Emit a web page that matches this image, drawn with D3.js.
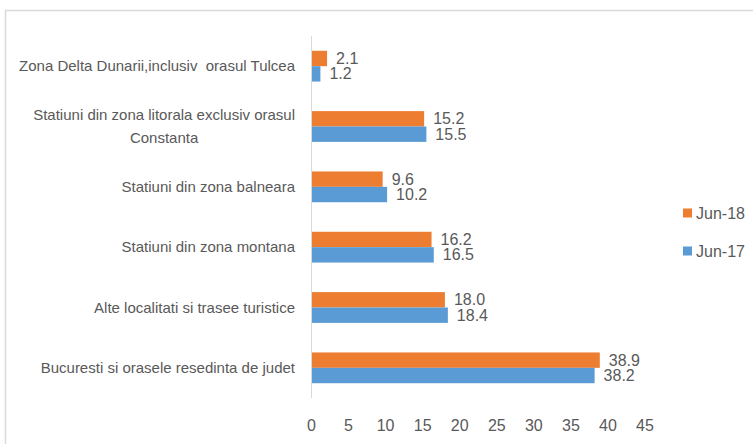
<!DOCTYPE html>
<html>
<head>
<meta charset="utf-8">
<script src="https://cdn.jsdelivr.net/npm/d3@7"></script>
<style>
  body { margin: 0; background: #fff; }
  text { font-family: "Liberation Sans", Arial, sans-serif; fill: #595959; white-space: pre; }
</style>
</head>
<body>
<div id="chart"></div>
<script>
// Categories, top to bottom as shown
const categories = [
    "Zona Delta Dunarii,inclusiv  orasul Tulcea",
    "Statiuni din zona litorala exclusiv orasul|Constanta",
    "Statiuni din zona balneara",
    "Statiuni din zona montana",
    "Alte localitati si trasee turistice",
    "Bucuresti si orasele resedinta de judet"
];
const jun18 = [2.1, 15.2, 9.6, 16.2, 18.0, 38.9];
const jun17 = [1.2, 15.5, 10.2, 16.5, 18.4, 38.2];
const seriesNames = ["Jun-18", "Jun-17"];
const xTicks = [0, 5, 10, 15, 20, 25, 30, 35, 40, 45];

const colors = { "Jun-18": "#ED7D31", "Jun-17": "#5B9BD5" };

const width = 753, height = 444;
const svg = d3.select("#chart").append("svg")
    .attr("width", width)
    .attr("height", height);

// Outer chart border
svg.append("rect")
    .attr("x", 5.5).attr("y", 10.5)
    .attr("width", 800).attr("height", 500)
    .attr("fill", "none")
    .attr("stroke", "#d9d9d9")
    .attr("stroke-width", 1.5);

const x = d3.scaleLinear().domain([0, 45]).range([311.5, 645]);
const y = d3.scaleBand().domain(categories).range([36, 398]).paddingInner(0.49).paddingOuter(0.245);
const sub = d3.scaleBand().domain(seriesNames).range([0, y.bandwidth()]);

const data = categories.map((c, i) => ({ cat: c, values: [
    { key: "Jun-18", value: jun18[i] },
    { key: "Jun-17", value: jun17[i] }
]}));

// Bars
const groups = svg.selectAll(".cat").data(data).join("g")
    .attr("class", "cat")
    .attr("transform", d => `translate(0,${y(d.cat)})`);

groups.selectAll("rect").data(d => d.values).join("rect")
    .attr("x", x(0))
    .attr("y", d => sub(d.key))
    .attr("width", d => x(d.value) - x(0))
    .attr("height", sub.bandwidth())
    .attr("fill", d => colors[d.key]);

groups.selectAll(".val").data(d => d.values).join("text")
    .attr("class", "val")
    .attr("x", d => x(d.value) + 9)
    .attr("y", d => sub(d.key) + sub.bandwidth() / 2)
    .attr("dy", "0.35em")
    .style("font-size", "16px")
    .text(d => d3.format(".1f")(d.value));

// Vertical axis line
svg.append("line")
    .attr("x1", x(0)).attr("x2", x(0))
    .attr("y1", 36).attr("y2", 398)
    .attr("stroke", "#d9d9d9");

// Category labels (multi-line with |), right-aligned block, lines centred
svg.selectAll(".cat-label").data(categories).join("text")
    .attr("class", "cat-label")
    .attr("text-anchor", "middle")
    .style("font-size", "15px")
    .each(function(d) {
        const lines = d.split("|");
        const t = d3.select(this);
        const lh = 23;
        const cy = y(d) + y.bandwidth() / 2;
        const top = cy - (lines.length - 1) * lh / 2;
        lines.forEach((ln, i) => {
            t.append("tspan").attr("y", top + i * lh).attr("dy", "0.35em").text(ln);
        });
        const w = d3.max(t.selectAll("tspan").nodes(), n => n.getComputedTextLength());
        t.selectAll("tspan").attr("x", 295 - w / 2);
    });

// X tick labels
svg.selectAll(".tick-label").data(xTicks).join("text")
    .attr("class", "tick-label")
    .attr("x", d => x(d))
    .attr("y", 425)
    .attr("dy", "0.35em")
    .attr("text-anchor", "middle")
    .style("font-size", "16px")
    .text(d => d);

// Legend
const legend = svg.selectAll(".legend").data(seriesNames).join("g")
    .attr("class", "legend")
    .attr("transform", (d, i) => `translate(683,${213 + i * 38})`);
legend.append("rect")
    .attr("x", 0).attr("y", -4.5)
    .attr("width", 9).attr("height", 9)
    .attr("fill", d => colors[d]);
legend.append("text")
    .attr("x", 13).attr("y", 0)
    .attr("dy", "0.35em")
    .style("font-size", "16px")
    .text(d => d);
</script>
</body>
</html>
